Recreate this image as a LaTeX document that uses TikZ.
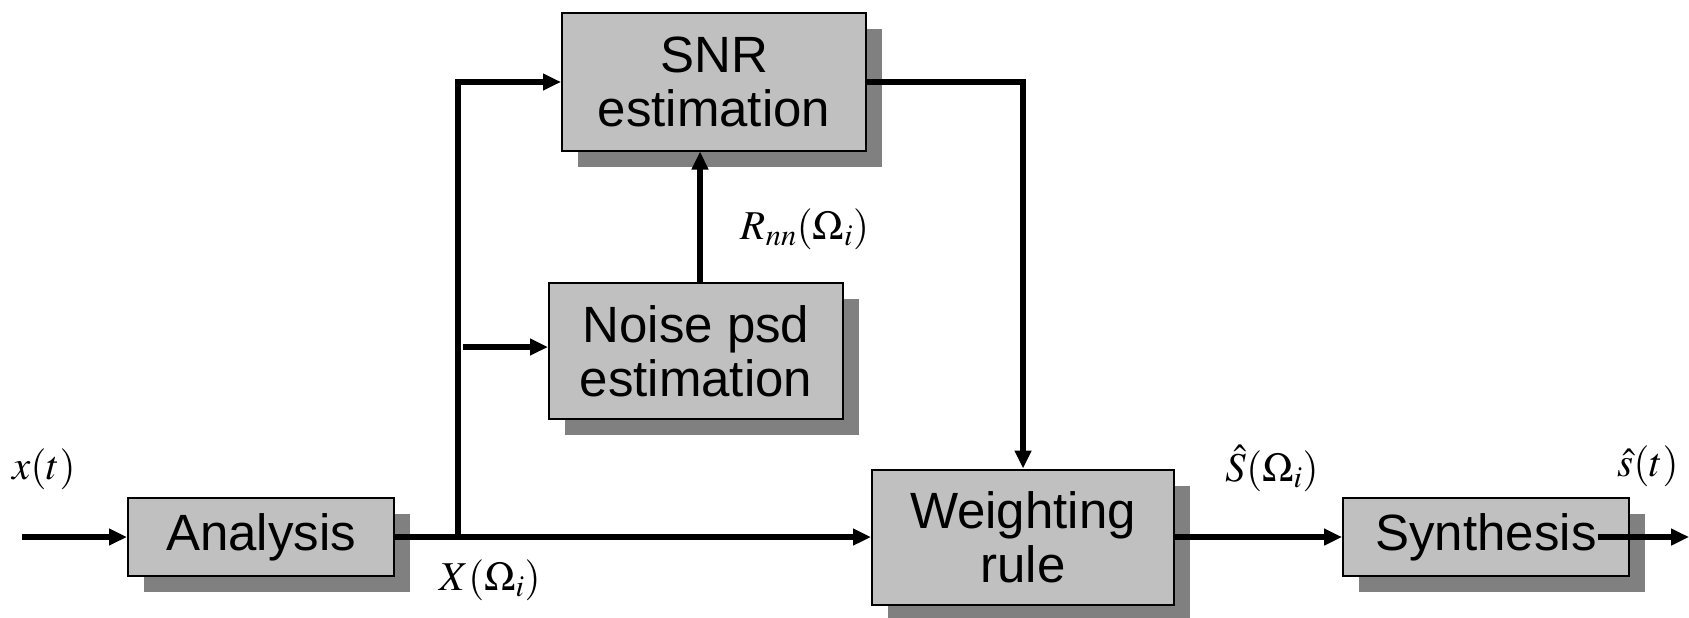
\documentclass[tikz,border=0pt]{standalone}
\usepackage{mathptmx}
\usepackage{fontspec}
\setsansfont{Liberation Sans}
\usetikzlibrary{arrows.meta,shadows}
\definecolor{boxgray}{RGB}{192,192,192}
\definecolor{shadegray}{RGB}{128,128,128}
\tikzset{
	block/.style={draw, line width=2pt, fill=boxgray, align=center, inner sep=0pt,
		font=\sffamily\fontsize{51}{54}\selectfont,
		drop shadow={shadow xshift=16pt, shadow yshift=-16pt, fill=shadegray, opacity=1}},
	sig/.style={font=\fontsize{41}{44}\selectfont, inner sep=1pt},
	link/.style={line width=5.5pt, -{Triangle[length=18pt,width=16pt]}}
}
\begin{document}
\begin{tikzpicture}[x=1pt, y=-1pt, line join=miter]
	\useasboundingbox (0,0) rectangle (1689,618);
	% blocks
	\node[block, minimum width=266pt, minimum height=78pt] (analysis) at (261,537) {Analysis};
	\node[block, minimum width=304pt, minimum height=137pt] (snr) at (714,82) {SNR\\estimation};
	\node[block, minimum width=294pt, minimum height=136pt] (noise) at (696,351) {Noise psd\\estimation};
	\node[block, minimum width=302pt, minimum height=135pt] (weight) at (1023,537) {Weighting\\rule};
	\node[block, minimum width=286pt, minimum height=78pt] (synth) at (1486,537) {Synthesis};
	\coordinate (in) at (22,537);
	\coordinate (branch) at (458,537);
	\coordinate (tap) at (463,347);
	\coordinate (rise) at (700,283);
	\coordinate (out) at (1689,537);
	% signals
	\draw[link] (in) -- (analysis.west);
	\draw[link] (analysis.east) -- (weight.west);
	\draw[link] (branch) |- (snr.west);
	\draw[link] (tap) -- (tap -| noise.west);
	\draw[link] (rise) -- (rise |- snr.south);
	\draw[link] (snr.east) -| (weight.north);
	\draw[link] (weight.east) -- (synth.west);
	\draw[link] ([xshift=-32pt]synth.east) -- (out);
	% labels
	\node[sig] (xt) at (44,469) {$x(t)$};
	\node[sig] (xom) at (490,580) {$X(\Omega_i)$};
	\node[sig] (rnn) at (805,229) {$R_{nn}(\Omega_i)$};
	\node[sig] (som) at (1272,468) {$\hat{S}(\Omega_i)$};
	\node[sig] (st) at (1648,466) {$\hat{s}(t)$};
\end{tikzpicture}
\end{document}
